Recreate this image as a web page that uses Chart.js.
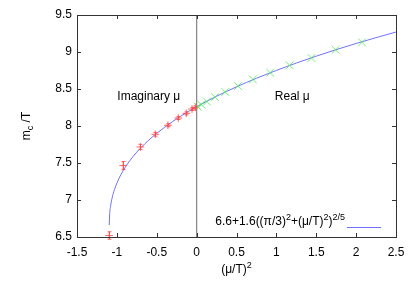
<!DOCTYPE html>
<html><head><meta charset="utf-8">
<script src="https://cdn.jsdelivr.net/npm/chart.js@4"></script>
<style>html,body{margin:0;padding:0;background:#fff;overflow:hidden}canvas{display:block}</style>
</head><body>
<canvas id="c" width="415" height="291"></canvas>
<script>
// Imaginary chemical potential data (x = (mu/T)^2 < 0)
const imagX = [-1.0966, -0.9216, -0.7056, -0.5184, -0.36, -0.2304, -0.1296, -0.0576, -0.0144];
const imagY = [6.52, 7.465, 7.717, 7.888, 8.01, 8.108, 8.171, 8.229, 8.252];
const imagErr = [0.05, 0.055, 0.035, 0.025, 0.02, 0.02, 0.02, 0.02, 0.02];
// Real chemical potential data
const realX = [0.0144, 0.0576, 0.1296, 0.2304, 0.36, 0.5184, 0.7056, 0.9216, 1.1664, 1.44, 1.7424, 2.0736];
const realY = [8.26, 8.29, 8.33, 8.39, 8.46, 8.54, 8.63, 8.72, 8.82, 8.92, 9.03, 9.13];
// Fit curve
const fitX = [-1.096, -1.09, -1.08, -1.06, -1.03, -1.0, -0.95, -0.9, -0.8, -0.7, -0.6, -0.5, -0.4, -0.3, -0.2, -0.1, 0, 0.25, 0.5, 0.75, 1.0, 1.25, 1.5, 1.75, 2.0, 2.25, 2.5];
const fitY = [6.66, 6.815, 6.91, 7.026, 7.141, 7.228, 7.342, 7.435, 7.584, 7.705, 7.809, 7.901, 7.984, 8.061, 8.132, 8.198, 8.26, 8.402, 8.529, 8.645, 8.751, 8.851, 8.944, 9.032, 9.115, 9.194, 9.27];
// Vertical reference line at (mu/T)^2 = 0
const zeroX = [0, 0];
const zeroY = [6.5, 9.5];
// Ticks
const xTicks = [-1.5, -1, -0.5, 0, 0.5, 1, 1.5, 2, 2.5];
const xTickLabels = ['-1.5', '-1', '-0.5', '0', '0.5', '1', '1.5', '2', '2.5'];
const yTicks = [6.5, 7, 7.5, 8, 8.5, 9, 9.5];
const yTickLabels = ['6.5', '7', '7.5', '8', '8.5', '9', '9.5'];
// Region labels (data coordinates)
const regionText = ['Imaginary \u03bc', 'Real \u03bc'];
const regionX = [-0.6, 1.2];
const regionY = [8.39, 8.39];

const FONT = '"Liberation Sans", Arial, Helvetica, sans-serif';
const toPts = (xs, ys) => xs.map((x, i) => ({x: x, y: ys[i]}));

function drawRich(ctx, parts, x, y, align) {
  const base = 12, small = 9;
  let w = 0;
  parts.forEach(p => { ctx.font = (p[1] === 'n' ? base : small) + 'px ' + FONT; w += ctx.measureText(p[0]).width; });
  let cx = align === 'right' ? x - w : (align === 'center' ? x - w / 2 : x);
  parts.forEach(p => {
    ctx.font = (p[1] === 'n' ? base : small) + 'px ' + FONT;
    const dy = p[1] === 'sup' ? -5 : (p[1] === 'sub' ? 3 : 0);
    ctx.fillText(p[0], cx, y + dy);
    cx += ctx.measureText(p[0]).width;
  });
  return w;
}

const deco = {
  id: 'deco',
  beforeDatasetsDraw(chart) {
    const ctx = chart.ctx, xs = chart.scales.x, ys = chart.scales.y;
    ctx.save();
    ctx.fillStyle = '#000';
    ctx.textBaseline = 'middle';
    ctx.textAlign = 'center';
    ctx.font = '12px ' + FONT;
    regionText.forEach((t, i) => ctx.fillText(t, xs.getPixelForValue(regionX[i]), ys.getPixelForValue(regionY[i])));
    ctx.restore();
  },
  afterDatasetsDraw(chart) {
    const ctx = chart.ctx, a = chart.chartArea, xs = chart.scales.x, ys = chart.scales.y;
    ctx.save();
    // error bars
    ctx.strokeStyle = 'rgba(255,70,70,0.85)';
    ctx.lineWidth = 1;
    imagX.forEach((x, i) => {
      const px = Math.round(xs.getPixelForValue(x)) + 0.5;
      const p1 = ys.getPixelForValue(imagY[i] - imagErr[i]);
      const p2 = ys.getPixelForValue(imagY[i] + imagErr[i]);
      ctx.beginPath();
      ctx.moveTo(px, p1); ctx.lineTo(px, p2);
      ctx.moveTo(px - 2, p1); ctx.lineTo(px + 2, p1);
      ctx.moveTo(px - 2, p2); ctx.lineTo(px + 2, p2);
      ctx.stroke();
    });
    // frame
    ctx.strokeStyle = '#333';
    ctx.lineWidth = 1;
    ctx.strokeRect(Math.round(a.left) + 0.5, Math.round(a.top) + 0.5, Math.round(a.right - a.left), Math.round(a.bottom - a.top));
    // inward ticks (mirrored)
    ctx.beginPath();
    xTicks.forEach(v => {
      const px = Math.round(xs.getPixelForValue(v)) + 0.5;
      ctx.moveTo(px, a.bottom); ctx.lineTo(px, a.bottom - 4);
      ctx.moveTo(px, a.top); ctx.lineTo(px, a.top + 4);
    });
    yTicks.forEach(v => {
      const py = Math.round(ys.getPixelForValue(v)) + 0.5;
      ctx.moveTo(a.left, py); ctx.lineTo(a.left + 4, py);
      ctx.moveTo(a.right, py); ctx.lineTo(a.right - 4, py);
    });
    ctx.stroke();
    // axis titles
    ctx.fillStyle = '#000';
    ctx.textBaseline = 'alphabetic';
    drawRich(ctx, [['(\u03bc/T)', 'n'], ['2', 'sup']], (a.left + a.right) / 2, 273, 'center');
    ctx.save();
    ctx.translate(30, (a.top + a.bottom) / 2);
    ctx.rotate(-Math.PI / 2);
    drawRich(ctx, [['m', 'n'], ['c', 'sub'], [' /T', 'n']], 0, 0, 'center');
    ctx.restore();
    // legend
    const ly = a.bottom - 12;
    drawRich(ctx, [['6.6+1.6((\u03c0/3)', 'n'], ['2', 'sup'], ['+(\u03bc/T)', 'n'], ['2', 'sup'], [')', 'n'], ['2/5', 'sup']], a.right - 51, ly, 'right');
    ctx.strokeStyle = '#7070ff';
    ctx.beginPath();
    ctx.moveTo(a.right - 49, ly + 2.5); ctx.lineTo(a.right - 15, ly + 2.5);
    ctx.stroke();
    ctx.restore();
  }
};

new Chart(document.getElementById('c'), {
  type: 'scatter',
  data: {
    datasets: [
      { label: 'zero', data: toPts(zeroX, zeroY), showLine: true, borderColor: '#8a8a8a', borderWidth: 1.3, pointRadius: 0, order: 4 },
      { label: 'fit', data: toPts(fitX, fitY), showLine: true, borderColor: '#7070ff', borderWidth: 1, pointRadius: 0, cubicInterpolationMode: 'monotone', order: 3 },
      { label: 'Imaginary', data: toPts(imagX, imagY), pointStyle: 'cross', pointRadius: 3.8, borderColor: 'rgba(255,70,70,0.85)', borderWidth: 1, order: 2 },
      { label: 'Real', data: toPts(realX, realY), pointStyle: 'crossRot', pointRadius: 5.5, borderColor: 'rgba(80,235,80,0.8)', borderWidth: 1, order: 1 }
    ]
  },
  options: {
    responsive: false,
    animation: false,
    devicePixelRatio: 1,
    layout: { padding: { left: 0, right: 19, top: 15, bottom: 0 } },
    plugins: { legend: { display: false }, tooltip: { enabled: false } },
    scales: {
      x: {
        type: 'linear', min: -1.5, max: 2.5,
        afterBuildTicks: s => { s.ticks = xTicks.map(v => ({ value: v })); },
        afterFit: s => { s.height = 54; },
        grid: { display: false, drawTicks: false },
        border: { display: false },
        ticks: { color: '#000', font: { family: FONT, size: 12 }, padding: 8, maxRotation: 0, autoSkip: false,
          callback: (v) => xTickLabels[xTicks.indexOf(v)] }
      },
      y: {
        type: 'linear', min: 6.5, max: 9.5,
        afterBuildTicks: s => { s.ticks = yTicks.map(v => ({ value: v })); },
        afterFit: s => { s.width = 77; },
        grid: { display: false, drawTicks: false },
        border: { display: false },
        ticks: { color: '#000', font: { family: FONT, size: 12 }, padding: 5, autoSkip: false,
          callback: (v) => yTickLabels[yTicks.indexOf(v)] }
      }
    }
  },
  plugins: [deco]
});
</script>
</body></html>
